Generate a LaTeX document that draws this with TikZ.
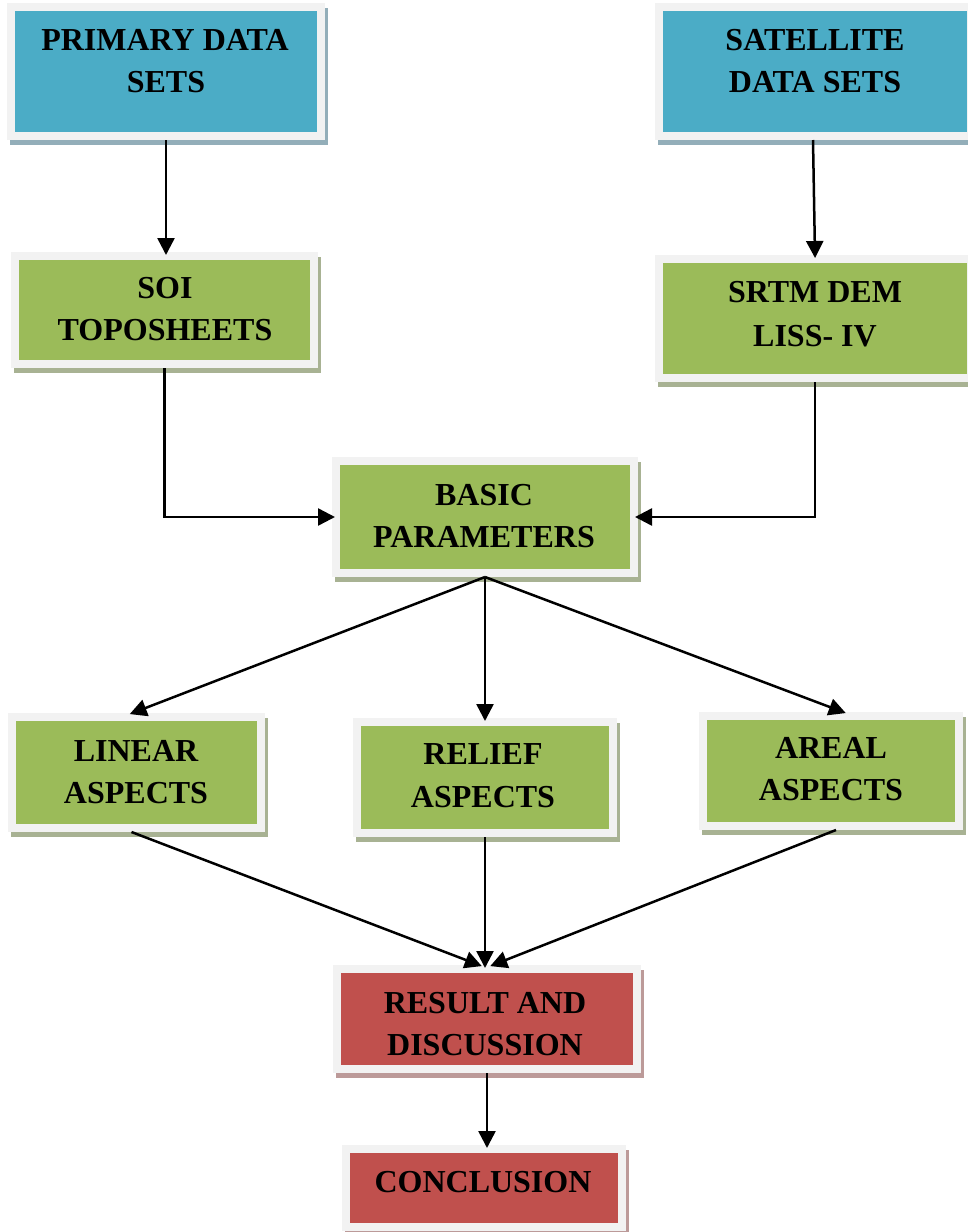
\documentclass[tikz,border=0pt]{standalone}
\usepackage{fontspec}
\setmainfont{Liberation Serif}
\usetikzlibrary{arrows.meta}
\definecolor{frm}{HTML}{F2F2F2}
\definecolor{cblue}{HTML}{4BACC6}
\definecolor{cgreen}{HTML}{9BBB59}
\definecolor{cred}{HTML}{C0504D}
\definecolor{shblue}{HTML}{93AEB9}
\definecolor{shgreen}{HTML}{A8B293}
\definecolor{shred}{HTML}{BC9A99}
\begin{document}
\begin{tikzpicture}[x=1pt,y=-1pt,
  bx/.style={draw=frm, line width=8pt, fill=#1, inner sep=0pt},
  shd/.style={preaction={fill=#1, draw=#1, line width=8pt, transform canvas={shift={(3pt,-5pt)}}}},
  txt/.style={anchor=base, font=\fontsize{32}{38}\selectfont\bfseries, inner sep=0pt},
  arr/.style={-{Triangle[length=17pt,width=17pt]}, line width=2.5pt, black, shorten >=-3pt}]
\clip (0,0) rectangle (968,1232);
% boxes
\node[bx=cblue, shd=shblue, minimum width=310pt, minimum height=129pt] (p) at (166,71.5) {};
\node[bx=cblue, shd=shblue, minimum width=312pt, minimum height=129pt] (s) at (815,71.5) {};
\node[bx=cgreen, shd=shgreen, minimum width=299pt, minimum height=108pt] (soi) at (164.5,310) {};
\node[bx=cgreen, shd=shgreen, minimum width=312pt, minimum height=119pt] (srtm) at (815,318.5) {};
\node[bx=cgreen, shd=shgreen, minimum width=298pt, minimum height=112pt] (basic) at (485,517) {};
\node[bx=cgreen, shd=shgreen, minimum width=249pt, minimum height=111pt] (lin) at (136.5,772.5) {};
\node[bx=cgreen, shd=shgreen, minimum width=256pt, minimum height=111pt] (rel) at (485,777.5) {};
\node[bx=cgreen, shd=shgreen, minimum width=256pt, minimum height=110pt] (are) at (831,771) {};
\node[bx=cred, shd=shred, minimum width=300pt, minimum height=100pt] (res) at (487,1019) {};
\node[bx=cred, shd=shred, minimum width=276pt, minimum height=78pt] (con) at (484,1188) {};
% texts
\node[txt] (p1) at (165,50) {PRIMARY DATA};
\node[txt] (p2) at (166,92) {SETS};
\node[txt] (s1) at (815,50) {SATELLITE};
\node[txt] (s2) at (815,92) {DATA SETS};
\node[txt] (soi1) at (165,298) {SOI};
\node[txt] (soi2) at (165,340) {TOPOSHEETS};
\node[txt] (srtm1) at (815,302) {SRTM DEM};
\node[txt] (srtm2) at (815,346) {LISS- IV};
\node[txt] (b1) at (484,505) {BASIC};
\node[txt] (b2) at (484,547) {PARAMETERS};
\node[txt] (l1) at (136,761) {LINEAR};
\node[txt] (l2) at (136,803) {ASPECTS};
\node[txt] (r1) at (483,764) {RELIEF};
\node[txt] (r2) at (483,807) {ASPECTS};
\node[txt] (a1) at (831,758) {AREAL};
\node[txt] (a2) at (831,800) {ASPECTS};
\node[txt] (res1) at (485,1013) {RESULT AND};
\node[txt] (res2) at (485,1055) {DISCUSSION};
\node[txt] (c1) at (483,1192) {CONCLUSION};
% connectors
\draw[arr] (p.south) -- (p.south |- soi.north);
\draw[arr] ([xshift=-2pt]s.south) -- (srtm.north);
\draw[arr] (soi.south) |- (basic.west);
\draw[arr] (srtm.south) |- (basic.east);
\draw[arr] (basic.south) -- ([xshift=-4pt]lin.north);
\draw[arr] (basic.south) -- (rel.north);
\draw[arr] (basic.south) -- ([xshift=12pt]are.north);
\draw[arr] ([xshift=-5pt]lin.south) -- ([xshift=-8pt]res.north);
\draw[arr] (rel.south) -- (rel.south |- res.north);
\draw[arr] ([xshift=5pt]are.south) -- ([xshift=6pt]res.north);
\draw[arr] (res.south) -- (res.south |- con.north);
\end{tikzpicture}
\end{document}
